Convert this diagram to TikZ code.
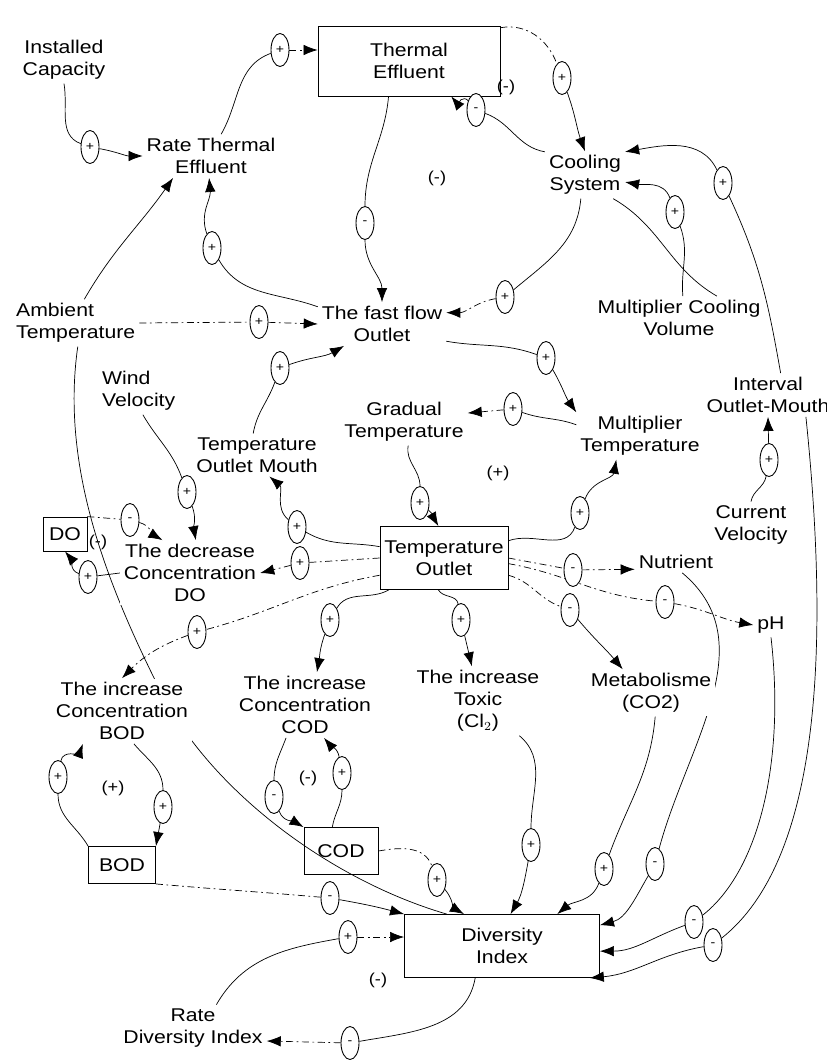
\documentclass[tikz,border=0pt]{standalone}
\usepackage{fontspec}
\setmainfont{Liberation Sans}[FakeStretch=1.15]
\usetikzlibrary{arrows.meta,shapes.geometric,backgrounds}

\begin{document}
\begin{tikzpicture}[>={Latex[length=8pt,width=6pt]}, x=0.02cm, y=-0.02cm, line width=0.7pt,
    lbl/.style={align=center, fill=white, inner sep=2pt, font=\fontsize{10.5}{12.5}\selectfont},
    lvl/.style={draw, line width=0.5pt, align=center, inner sep=2pt, font=\fontsize{10.5}{12.5}\selectfont},
    sgn/.style={draw, ellipse, fill=white, inner sep=0pt, minimum width=0.36cm,
      minimum height=0.66cm, line width=0.5pt, font=\scriptsize},
    dline/.style={dash pattern=on 4pt off 2pt on 1pt off 2pt},
    lptag/.style={font=\small, inner sep=1pt}]
  \useasboundingbox (0,0) rectangle (827,1061);

  % variables and levels
  \node[lbl] (inst) at (64,60) {Installed\\Capacity};
  \node[lbl] (rte) at (211,156) {Rate Thermal\\Effluent};
  \node[lvl, minimum width=3.64cm, minimum height=1.4cm] (te) at (409,61) {Thermal\\Effluent};
  \node[lbl] (cool) at (585,175) {Cooling\\System};
  \node[lbl, align=left, anchor=west] (amb) at (12,323) {Ambient\\Temperature};
  \node[lbl] (ffo) at (382,324) {The fast flow\\Outlet};
  \node[lbl] (mcv) at (679,318) {Multiplier Cooling\\Volume};
  \node[lbl] (iom) at (768,395) {Interval\\Outlet-Mouth};
  \node[lbl, align=left, anchor=west] (wind) at (98,391) {Wind\\Velocity};
  \node[lbl] (tom) at (257,455) {Temperature\\Outlet Mouth};
  \node[lbl] (grad) at (404,422) {Gradual\\Temperature};
  \node[lbl] (mt) at (640,436) {Multiplier\\Temperature};
  \node[lbl] (curv) at (751,525) {Current\\Velocity};
  \node[lvl, minimum width=2.56cm, minimum height=1.26cm] (tout) at (444,558) {Temperature\\Outlet};
  \node[lvl, minimum width=0.88cm, minimum height=0.68cm] (do) at (65,534) {DO};
  \node[lbl] (decdo) at (190,573) {The decrease\\Concentration\\DO};
  \node[lbl] (nutr) at (676,562) {Nutrient};
  \node[lbl] (ph) at (771,625) {pH};
  \node[lbl] (incbod) at (122,711) {The increase\\Concentration\\BOD};
  \node[lbl] (inccod) at (305,705) {The increase\\Concentration\\COD};
  \node[lbl] (tox) at (478,701) {The increase\\Toxic\\(Cl$_2$)};
  \node[lbl] (meta) at (651,693) {Metabolisme\\(CO2)};
  \node[lvl, minimum width=1.34cm, minimum height=0.74cm] (bod) at (122,865) {BOD};
  \node[lvl, minimum width=1.48cm, minimum height=0.94cm] (cod) at (341,851) {COD};
  \node[lvl, minimum width=3.9cm, minimum height=1.26cm] (di) at (502,946) {Diversity\\Index};
  \node[lbl] (rdi) at (193,1028) {Rate\\Diversity Index};

  % loop polarities
  \node[lptag] (tg1) at (437,178) {(-)};
  \node[lptag] (tg2) at (506,87) {(-)};
  \node[lptag] (tg3) at (498,473) {(+)};
  \node[lptag] (tg4) at (98,542) {(-)};
  \node[lptag] (tg5) at (113,788) {(+)};
  \node[lptag] (tg6) at (308,778) {(-)};
  \node[lptag] (tg7) at (378,980) {(-)};

  % link signs
  \node[sgn] (s1) at (90,147) {+};
  \node[sgn] (s2) at (280,50) {+};
  \node[sgn] (s3) at (562,78) {+};
  \node[sgn] (s4) at (476,110) {-};
  \node[sgn] (s5) at (365,223) {-};
  \node[sgn] (s6) at (505,297) {+};
  \node[sgn] (s7) at (212,248) {+};
  \node[sgn] (s8) at (259,322) {+};
  \node[sgn] (s9) at (280,368) {+};
  \node[sgn] (s10) at (546,358) {+};
  \node[sgn] (s11) at (513,409) {+};
  \node[sgn] (s12) at (420,503) {+};
  \node[sgn] (s13) at (580,513) {+};
  \node[sgn] (s14) at (675,212) {+};
  \node[sgn] (s15) at (723,183) {+};
  \node[sgn] (s16) at (769,460) {+};
  \node[sgn] (s17) at (187,492) {+};
  \node[sgn] (s18) at (297,527) {+};
  \node[sgn] (s19) at (300,563) {+};
  \node[sgn] (s20) at (130,520) {-};
  \node[sgn] (s21) at (88,577) {+};
  \node[sgn] (s22) at (197,632) {+};
  \node[sgn] (s23) at (330,620) {+};
  \node[sgn] (s24) at (461,620) {+};
  \node[sgn] (s25) at (573,570) {-};
  \node[sgn] (s26) at (570,610) {-};
  \node[sgn] (s27) at (665,602) {-};
  \node[sgn] (s28) at (655,864) {-};
  \node[sgn] (s29) at (694,922) {-};
  \node[sgn] (s30) at (713,945) {-};
  \node[sgn] (s31) at (604,869) {+};
  \node[sgn] (s32) at (531,845) {+};
  \node[sgn] (s33) at (437,880) {+};
  \node[sgn] (s34) at (330,898) {-};
  \node[sgn] (s35) at (348,937) {+};
  \node[sgn] (s36) at (350,1043) {-};
  \node[sgn] (s37) at (163,807) {+};
  \node[sgn] (s38) at (58,777) {+};
  \node[sgn] (s39) at (274,797) {-};
  \node[sgn] (s40) at (342,773) {+};

  \begin{scope}[on background layer]
    % thermal effluent loop
    \draw (inst.south) to[out=-80,in=160] (s1);
    \draw[->] (s1) to[out=-10,in=180] (rte.west);
    \draw (rte.65) to[out=60,in=-160] (s2);
    \draw[->,dline] (s2) -- (s2 -| te.west);
    \draw[dline] (te.20) to[out=10,in=110] (s3);
    \draw[->] (s3) to[out=-70,in=110] (cool.north);
    \draw (cool.150) to[out=170,in=-20] (s4);
    \draw[->] (s4) to[out=130,in=-50] (te.-40);
    \draw (te.-120) to[out=-95,in=90] (s5);
    \draw[->] (s5) to[out=-90,in=90] (ffo.north);
    \draw (cool.-100) to[out=-95,in=40] (s6);
    \draw[->,dline] (s6) to[out=190,in=0] (ffo.10);
    \draw (ffo.165) to[out=160,in=-60] (s7);
    \draw[->] (s7) to[out=110,in=-85] (rte.-95);
    \draw[->] (amb.70) to[out=60,in=-125] (rte.-150);
    \draw[dline] (amb.east) -- (s8);
    \draw[->,dline] (s8) -- (ffo.west);
    \draw (tom.100) to[out=80,in=-110] (s9);
    \draw[->] (s9) to[out=20,in=-150] (ffo.-150);
    % temperature
    \draw (ffo.-15) to[out=-10,in=160] (s10);
    \draw[->] (s10) to[out=-60,in=125] (mt.north west);
    \draw (mt.170) to[out=160,in=-20] (s11);
    \draw[->,dline] (s11) -- (grad.8);
    \draw (grad.-80) to[out=-100,in=90] (s12);
    \draw[->] (s12) to[out=-40,in=120] (tout.100);
    \draw (tout.15) to[out=20,in=-110] (s13);
    \draw[->] (s13) to[out=70,in=-100] (mt.-135);
    % cooling
    \draw (mcv.80) to[out=95,in=-70] (s14);
    \draw[->] (s14) to[out=110,in=-10] (cool.-10);
    \draw (cool.-40) to[out=-30,in=150] (mcv.30);
    \draw (iom.60) to[out=100,in=-65] (s15);
    \draw[->] (s15) to[out=115,in=10] (cool.30);
    \draw (curv.north) to[out=80,in=-100] (s16);
    \draw[->] (s16) -- (iom.south);
    % DO
    \draw (wind.-80) to[out=-60,in=110] (s17);
    \draw[->] (s17) to[out=-70,in=100] (decdo.80);
    \draw (tout.170) to[out=170,in=-30] (s18);
    \draw[->] (s18) to[out=140,in=-40] (tom.-60);
    \draw[dline] (tout.west) -- (s19);
    \draw[->,dline] (s19) -- (decdo.east);
    \draw[dline] (do.north east) -- (s20);
    \draw[->,dline] (s20) to[out=-15,in=150] (decdo.130);
    \draw (decdo.west) -- (s21);
    \draw[->] (s21) to[out=160,in=-50] (do.south);
    % outlet effects
    \draw[dline] (tout.-165) to[out=190,in=15] (s22);
    \draw[->,dline] (s22) to[out=200,in=45] (incbod.north);
    \draw (tout.-150) to[out=-150,in=60] (s23);
    \draw[->] (s23) to[out=-110,in=80] (inccod.70);
    \draw (tout.-100) to[out=-60,in=100] (s24);
    \draw[->] (s24) -- (tox.100);
    \draw[dline] (tout.east) -- (s25);
    \draw[->,dline] (s25) -- (nutr.-170);
    \draw[dline] (tout.-15) to[out=-15,in=160] (s26);
    \draw[->] (s26) to[out=-50,in=130] (meta.140);
    \draw[dline] (tout.-5) to[out=-10,in=175] (s27);
    \draw[->,dline] (s27) to[out=-10,in=170] (ph.west);
    % diversity index
    \draw (nutr.-60) to[out=-40,in=75] (s28);
    \draw[->] (s28) to[out=-120,in=15] (di.12);
    \draw (ph.south) .. controls (785,760) and (760,870) .. (s29);
    \draw[->] (s29) to[out=-160,in=0] (di.-3);
    \draw (iom.-30) .. controls (830,650) and (820,860) .. (s30);
    \draw[->] (s30) to[out=-170,in=5] (di.-20);
    \draw (meta.-80) to[out=-95,in=70] (s31);
    \draw[->] (s31) to[out=-110,in=40] (di.30);
    \draw (tox.-40) to[out=-40,in=90] (s32);
    \draw[->] (s32) to[out=-100,in=60] (di.75);
    \draw[dline] (cod.east) to[out=10,in=110] (s33);
    \draw[->] (s33) to[out=-50,in=150] (di.140);
    \draw[dline] (bod.south east) to[out=-5,in=175] (s34);
    \draw[->] (s34) to[out=-10,in=165] (di.north west);
    \draw (rdi.45) to[out=60,in=-170] (s35);
    \draw[->,dline] (s35) -- (s35 -| di.west);
    \draw (di.-130) to[out=-100,in=10] (s36);
    \draw[->,dline] (s36) -- (rdi.-10);
    % BOD and COD loops
    \draw (incbod.-70) to[out=-50,in=90] (s37);
    \draw[->] (s37) to[out=-100,in=80] (bod.north east);
    \draw (bod.north west) to[out=120,in=-90] (s38);
    \draw[->] (s38) to[out=80,in=-110] (incbod.-140);
    \draw (inccod.-120) to[out=-110,in=90] (s39);
    \draw[->] (s39) to[out=-70,in=150] (cod.north west);
    \draw (cod.110) to[out=80,in=-90] (s40);
    \draw[->] (s40) to[out=100,in=-50] (inccod.-60);
    % ambient temperature to diversity index
    \coordinate (ambmid) at (160,690);
    \draw (amb.-85) .. controls (60,470) and (110,590) .. (ambmid)
      .. controls (210,790) and (330,880) .. (di.150);
  \end{scope}
\end{tikzpicture}
\end{document}
